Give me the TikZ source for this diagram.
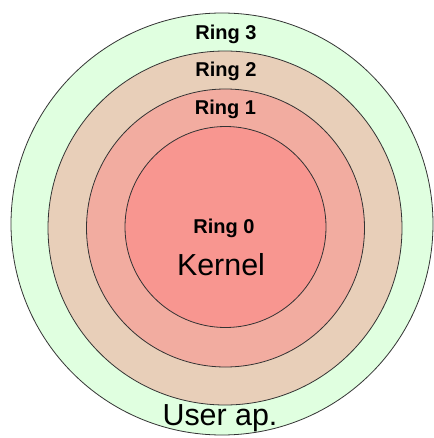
\documentclass[tikz,border=0pt]{standalone}
\usepackage{fontspec}
\setmainfont{Liberation Sans}

\definecolor{userfill}{RGB}{224,255,224}
\definecolor{ringtwofill}{RGB}{232,207,185}
\definecolor{ringonefill}{RGB}{242,172,160}
\definecolor{ringzerofill}{RGB}{248,150,144}

\begin{document}
\begin{tikzpicture}[x=0.75pt,y=0.75pt,yscale=-1,xscale=1,
		ringline/.style={draw=black!80, line width=0.6pt},
		ringlabel/.style={font=\bfseries\fontsize{15}{18}\selectfont, inner sep=0.75pt, anchor=base},
		bigtext/.style={font=\fontsize{22.8}{26}\selectfont, inner sep=0.75pt, anchor=base}]
				\useasboundingbox (0,0) rectangle (433,438);

				%Shape: Circle [id:user] 
				\draw [ringline, fill=userfill] (222,224) circle [radius=211];
				%Shape: Circle [id:ringtwo] 
				\draw [ringline, fill=ringtwofill] (225,228) circle [radius=177];
				%Shape: Circle [id:ringone] 
				\draw [ringline, fill=ringonefill] (225.5,228) circle [radius=139];
				%Shape: Circle [id:ringzero] 
				\draw [ringline, fill=ringzerofill] (225.5,227) circle [radius=100.5];

				% Text Node
				\node (ringthree) [ringlabel] at (226,40) {Ring 3};
				% Text Node
				\node (ringtwo) [ringlabel] at (226,77) {Ring 2};
				% Text Node
				\node (ringone) [ringlabel] at (225.5,115) {Ring 1};
				% Text Node
				\node (ringzero) [ringlabel] at (224,233) {Ring 0};
				% Text Node
				\node (kernel) [bigtext] at (221,275) {Kernel};
				% Text Node
				\node (userap) [bigtext] at (220,425) {User ap.};

\end{tikzpicture}
\end{document}
